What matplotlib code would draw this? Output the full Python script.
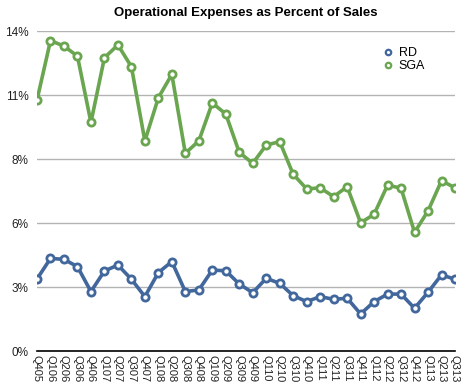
import matplotlib
matplotlib.use("Agg")
import matplotlib.pyplot as plt
import numpy as np

plt.rcParams["font.family"] = ["Liberation Sans", "DejaVu Sans"]

quarters = ["Q405", "Q106", "Q206", "Q306", "Q406", "Q107", "Q207", "Q307", "Q407",
            "Q108", "Q208", "Q308", "Q408", "Q109", "Q209", "Q309", "Q409",
            "Q110", "Q210", "Q310", "Q410", "Q111", "Q211", "Q311", "Q411",
            "Q112", "Q212", "Q312", "Q412", "Q113", "Q213", "Q313"]
rd = [3.15, 4.05, 4.01, 3.69, 2.60, 3.50, 3.76, 3.14, 2.38,
      3.43, 3.91, 2.60, 2.67, 3.54, 3.51, 2.93, 2.55,
      3.18, 2.96, 2.42, 2.16, 2.38, 2.26, 2.31, 1.62,
      2.16, 2.49, 2.49, 1.87, 2.57, 3.33, 3.14]
sga = [10.98, 13.58, 13.34, 12.90, 10.00, 12.83, 13.39, 12.44, 9.19,
       11.08, 12.10, 8.65, 9.19, 10.85, 10.37, 8.69, 8.21,
       9.01, 9.16, 7.73, 7.09, 7.14, 6.75, 7.19, 5.61,
       5.98, 7.26, 7.12, 5.19, 6.13, 7.45, 7.14]
yticks = [0, 2.8, 5.6, 8.4, 11.2, 14.0]
ytick_labels = ["0%", "3%", "6%", "8%", "11%", "14%"]

fig = plt.figure(figsize=(4.74, 3.88), dpi=100)
ax = fig.add_axes([37/474, 1-351/388, (455-37)/474, 320/388])
x = np.arange(len(quarters))

blue = "#41679C"
green = "#6AA54F"
kw = dict(lw=2.6, marker="o", ms=5.2, mfc="white", mew=2.0)
ax.plot(x, rd, color=blue, label="RD", **kw, zorder=3)
ax.plot(x, sga, color=green, label="SGA", **kw, zorder=3)

ax.set_xlim(0, len(quarters)-1)
ax.set_ylim(0, 14)
ax.set_yticks(yticks)
ax.set_yticklabels(ytick_labels, fontsize=8.5, color="#222222")
ax.set_xticks(x)
ax.set_xticklabels(quarters, rotation=-90, fontsize=8, color="#222222")
ax.tick_params(length=0, pad=3)
ax.tick_params(axis="y", pad=6)
ax.grid(axis="y", color="#b3b3b3", lw=1)
ax.set_axisbelow(True)
for s in ["top", "right", "left"]:
    ax.spines[s].set_visible(False)
ax.spines["bottom"].set_color("black")
ax.spines["bottom"].set_linewidth(1.2)
ax.set_title("Operational Expenses as Percent of Sales", fontsize=9.5, fontweight="bold", pad=11)

leg = ax.legend(loc="upper left", bbox_to_anchor=(0.80, 0.985), frameon=False,
                fontsize=9, handlelength=0.8, handletextpad=0.5, labelspacing=0.1,
                markerscale=0.75)
for h in leg.legend_handles:
    h.set_linestyle("none")
    h.set_markeredgewidth(1.6)

fig.savefig("out.png", dpi=100)
